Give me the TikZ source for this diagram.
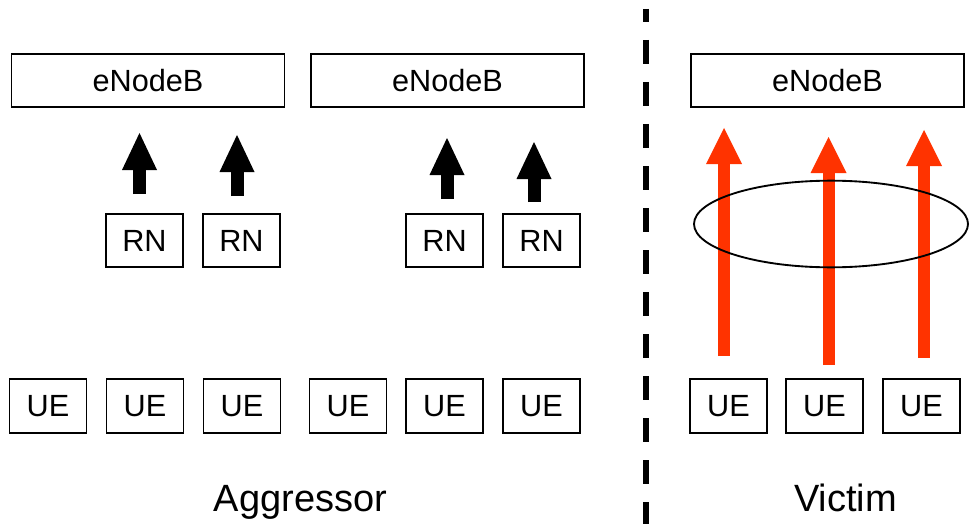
\documentclass[tikz,border=0pt]{standalone}
\usepackage{fontspec}
\setmainfont{Liberation Sans}
\usetikzlibrary{arrows.meta,shapes.geometric}
\definecolor{hot}{HTML}{FF3300}
\tikzset{
  enb/.style={
    rectangle, draw=black, line width=1.4pt, fill=white,
    minimum width=204.75pt, minimum height=39.75pt,
    font=\fontsize{23}{27}\selectfont, inner sep=0pt
  },
  term/.style={enb, minimum width=57.75pt, minimum height=40pt},
  blkarr/.style={-{Triangle[length=27.75pt, width=26.25pt, line width=0pt]}, line width=9.75pt, black},
  hotarr/.style={-{Triangle[length=27pt, width=27pt, line width=0pt]}, line width=9pt, hot},
  side/.style={font=\fontsize{28.5}{33}\selectfont, anchor=base, inner sep=0pt}
}

\begin{document}
\begin{tikzpicture}[x=0.75pt, y=-0.75pt]
\useasboundingbox (0,0) rectangle (969,524);

\node[enb] (enb1) at (148,80.5) {eNodeB};
\node[enb] (enb2) at (447.5,80.5) {eNodeB};
\node[enb] (enb3) at (827.5,80.5) {eNodeB};

\node[term] (rn1) at (144.5,240.5) {RN};
\node[term] (rn2) at (241.5,240.5) {RN};
\node[term] (rn3) at (444.5,240.5) {RN};
\node[term] (rn4) at (541.5,240.5) {RN};

\node[term] (ue1) at (48,406) {UE};
\node[term] (ue2) at (145,406) {UE};
\node[term] (ue3) at (242,406) {UE};
\node[term] (ue4) at (348,406) {UE};
\node[term] (ue5) at (444.5,406) {UE};
\node[term] (ue6) at (541.5,406) {UE};
\node[term] (ue7) at (728.5,406) {UE};
\node[term] (ue8) at (824.5,406) {UE};
\node[term] (ue9) at (921.5,406) {UE};

% relay uplinks
\coordinate (b1) at (139.5,194); \coordinate (t1) at (139.5,133);
\coordinate (b2) at (237,196);   \coordinate (t2) at (237,135);
\coordinate (b3) at (447,199);   \coordinate (t3) at (447,138);
\coordinate (b4) at (534,202);   \coordinate (t4) at (534,142);
\draw[blkarr] (b1) -- (t1);
\draw[blkarr] (b2) -- (t2);
\draw[blkarr] (b3) -- (t3);
\draw[blkarr] (b4) -- (t4);

% direct UE uplinks
\coordinate (v1) at (724,356);   \coordinate (w1) at (724,128);
\coordinate (v2) at (828.5,365); \coordinate (w2) at (828.5,137);
\coordinate (v3) at (924,358);   \coordinate (w3) at (924,130);
\draw[hotarr] (v1) -- (w1);
\draw[hotarr] (v2) -- (w2);
\draw[hotarr] (v3) -- (w3);

\node[ellipse, draw, line width=1.4pt, minimum width=205.5pt, minimum height=65pt, inner sep=0pt] (cell) at (831,224) {};

% divider
\coordinate (divtop) at (646,9);
\coordinate (divbot) at (646,524);
\draw[line width=4.5pt, dash pattern=on 18pt off 13.5pt, dash phase=8.25pt] (divtop) -- (divbot);

\node[side] (aggr) at (300.5,511) {Aggressor};
\node[side] (vict) at (845.5,511) {Victim};

\end{tikzpicture}
\end{document}
